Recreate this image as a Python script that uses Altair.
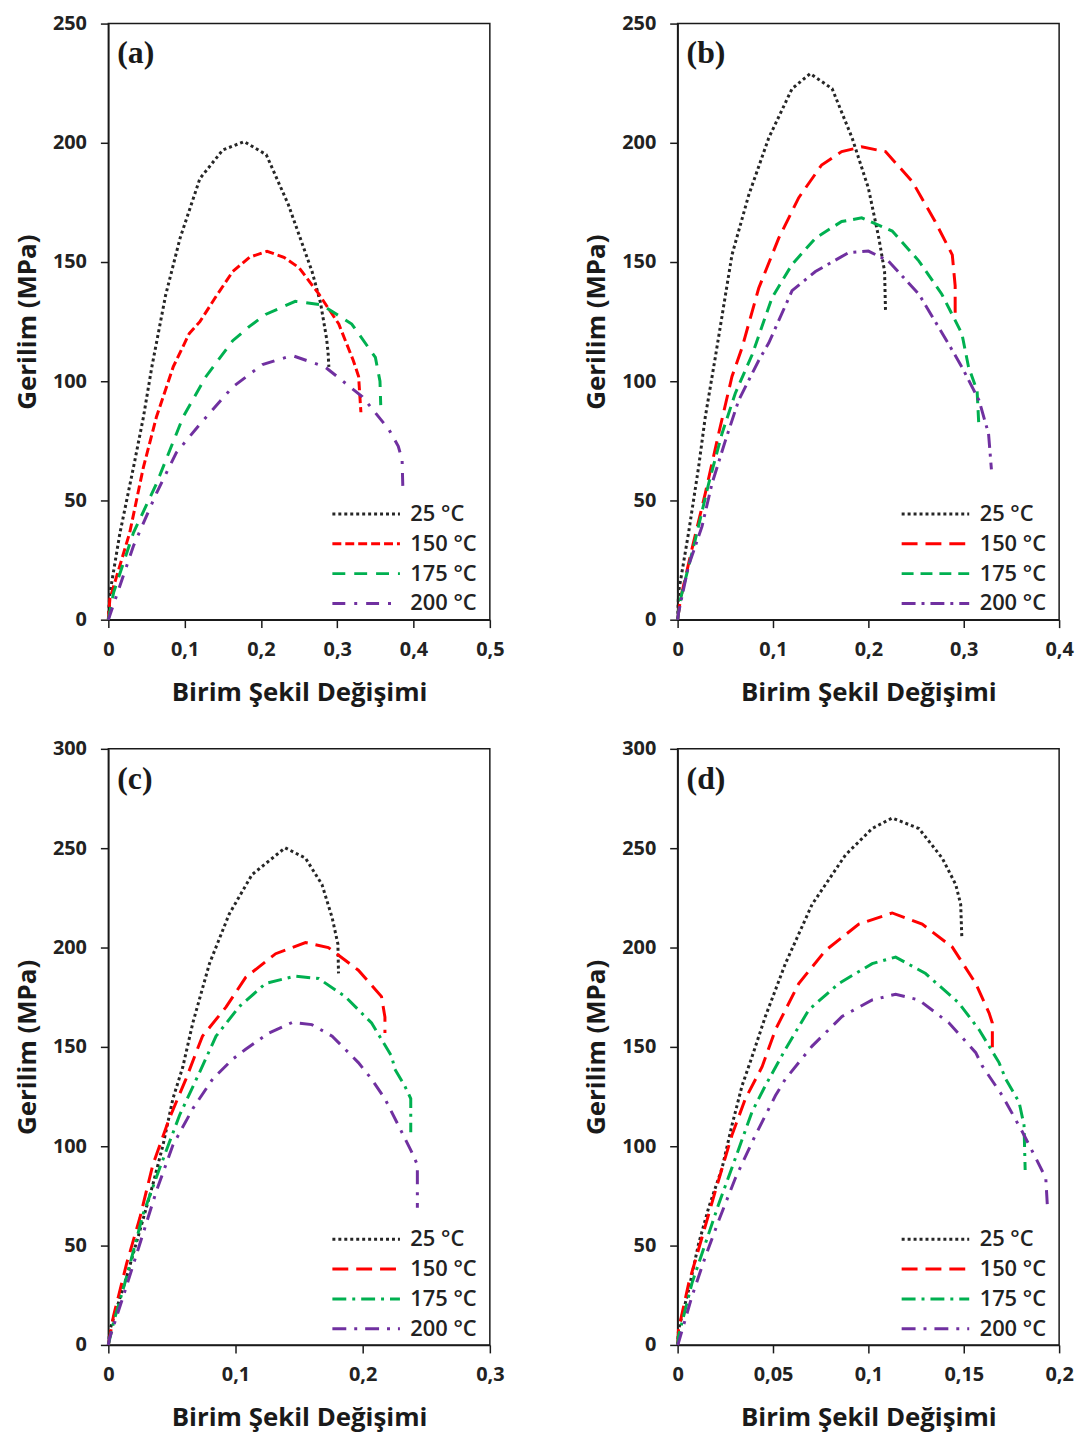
import altair as alt
import pandas as pd

LABELS = ["25 °C", "150 °C", "175 °C", "200 °C"]
COLORS = ["#262626", "#FF0000", "#00B050", "#7030A0"]
PANEL_LABELS = ["(a)", "(b)", "(c)", "(d)"]
X_TITLE = "Birim Şekil Değişimi"
Y_TITLE = "Gerilim (MPa)"

# ---- panel (a) ----
A25_x = [0, 0.002, 0.015, 0.033, 0.046, 0.057, 0.075, 0.094, 0.12, 0.15, 0.178, 0.207, 0.236, 0.267, 0.278, 0.286, 0.288, 0.289]
A25_y = [0, 11, 36, 64, 85, 106, 136, 160, 185, 197, 200.5, 195, 174, 146, 133, 118, 112, 106]
A150_x = [0, 0.002, 0.028, 0.046, 0.063, 0.085, 0.106, 0.12, 0.14, 0.163, 0.185, 0.208, 0.23, 0.25, 0.276, 0.302, 0.321, 0.328, 0.331]
A150_y = [0, 8.7, 36.5, 64, 85, 106, 120, 125, 135, 146, 152, 154.5, 152, 147.6, 136.5, 124, 108.7, 102, 87]
A175_x = [0, 0.007, 0.033, 0.063, 0.098, 0.128, 0.163, 0.185, 0.206, 0.245, 0.28, 0.319, 0.35, 0.356, 0.357]
A175_y = [0, 11.5, 36.5, 57, 85, 102, 117, 123, 128, 133.5, 132, 124, 110, 100, 90]
A200_x = [0, 0.033, 0.063, 0.089, 0.12, 0.163, 0.202, 0.241, 0.284, 0.333, 0.368, 0.38, 0.385, 0.386]
A200_y = [0, 31, 53, 70, 82, 97.6, 107, 110.8, 106, 93.5, 79.6, 72.7, 67, 55]

# ---- panel (b) ----
B25_x = [0, 0.001, 0.0115, 0.022, 0.029, 0.0395, 0.057, 0.0745, 0.0955, 0.12, 0.139, 0.162, 0.183, 0.2, 0.211, 0.217, 0.218]
B25_y = [0, 11.5, 36.5, 64, 85, 110, 153, 178, 202, 222.7, 229, 222.7, 202, 181, 160, 146, 129]
B150_x = [0, 0.003, 0.015, 0.029, 0.043, 0.057, 0.0675, 0.085, 0.106, 0.127, 0.151, 0.172, 0.193, 0.218, 0.246, 0.27, 0.288, 0.291, 0.291]
B150_y = [0, 8.7, 29.6, 53, 78, 102, 114, 139, 160, 177, 190.7, 196.3, 198.3, 196.3, 183.8, 167, 153, 140, 128]
B175_x = [0, 0.003, 0.0186, 0.0325, 0.0465, 0.0605, 0.078, 0.099, 0.12, 0.1445, 0.172, 0.193, 0.225, 0.253, 0.277, 0.298, 0.305, 0.314, 0.316]
B175_y = [0, 8.7, 33.7, 57, 78, 95, 111, 135, 149, 160, 167, 168.5, 163, 150.4, 136.5, 120, 106, 96, 80]
B200_x = [0, 0.001, 0.0115, 0.0255, 0.036, 0.05, 0.064, 0.085, 0.0955, 0.12, 0.1445, 0.179, 0.2, 0.221, 0.253, 0.284, 0.298, 0.316, 0.326, 0.329]
B200_y = [0, 3, 22.7, 39, 57, 75, 92, 108.7, 116, 138, 146, 153.9, 154.6, 150.4, 136.5, 115.7, 106, 92, 78, 63]

# ---- panel (c) ----
C25_x = [0, 0.0013, 0.0144, 0.0248, 0.035, 0.043, 0.0508, 0.0586, 0.0664, 0.0795, 0.095, 0.113, 0.139, 0.155, 0.168, 0.176, 0.1805, 0.181]
C25_y = [0, 7.8, 34.3, 57.6, 80.7, 100.6, 124, 140, 162, 191.9, 216.8, 236.7, 250.2, 245, 231.7, 215, 201.8, 187]
C150_x = [0, 0.004, 0.0144, 0.0248, 0.035, 0.048, 0.061, 0.074, 0.0925, 0.108, 0.1316, 0.155, 0.173, 0.1966, 0.2148, 0.2175, 0.2175]
C150_y = [0, 14.4, 41, 64, 90.7, 114, 133.8, 155.4, 170, 185, 196.9, 202.5, 200, 188.6, 175.3, 165, 157]
C175_x = [0, 0.004, 0.0144, 0.0273, 0.0404, 0.056, 0.0716, 0.0847, 0.103, 0.1238, 0.147, 0.1654, 0.1863, 0.207, 0.2227, 0.2253, 0.233, 0.2378, 0.2378]
C175_y = [0, 11.1, 34.3, 65.8, 89, 115.6, 137, 155.4, 170.3, 182, 185.6, 184.4, 175.3, 162, 145.4, 138.8, 130.5, 124, 107]
C200_x = [0, 0.001, 0.0117, 0.0248, 0.0378, 0.0508, 0.0664, 0.082, 0.0977, 0.108, 0.1263, 0.1445, 0.16, 0.176, 0.1966, 0.207, 0.2175, 0.228, 0.2383, 0.243, 0.243]
C200_y = [0, 3.5, 24.4, 50.9, 77.5, 100.6, 118.9, 133.8, 143.8, 148.8, 157, 162.3, 161.2, 155.4, 142.1, 133.8, 123.9, 110.6, 97.4, 90.7, 69]

# ---- panel (d) ----
D25_x = [0, 0.0005, 0.0058, 0.011, 0.0163, 0.0233, 0.0285, 0.0338, 0.039, 0.046, 0.0565, 0.0705, 0.088, 0.102, 0.1125, 0.1265, 0.1387, 0.1458, 0.1484, 0.149]
D25_y = [0, 7.8, 27.7, 50.9, 69.2, 89, 110.6, 130.5, 145, 165.3, 191.9, 221.7, 246.6, 259.9, 265.2, 259.9, 245, 231.7, 221.7, 205]
D150_x = [0, 0.0005, 0.0058, 0.0128, 0.0198, 0.0285, 0.0355, 0.0443, 0.0513, 0.0635, 0.0775, 0.095, 0.1125, 0.1282, 0.144, 0.1563, 0.1633, 0.165, 0.165]
D150_y = [0, 7.8, 31, 54.2, 77.5, 105.6, 123.9, 140, 158.7, 181.9, 198.5, 211.8, 217.4, 211.8, 200.2, 181.9, 167, 162, 148]
D175_x = [0, 0.0005, 0.0075, 0.0145, 0.0215, 0.0303, 0.039, 0.046, 0.0565, 0.0688, 0.0845, 0.102, 0.1143, 0.13, 0.1475, 0.158, 0.1685, 0.172, 0.179, 0.1816, 0.1822]
D175_y = [0, 4.5, 31, 50.9, 70.8, 94, 117.3, 130.5, 148.8, 168.7, 181.9, 191.9, 195.2, 186.9, 172, 158.7, 142.1, 133.8, 122.2, 110.6, 88]
D200_x = [0, 0.0005, 0.0075, 0.0145, 0.0215, 0.0303, 0.0408, 0.0513, 0.0565, 0.0705, 0.0862, 0.102, 0.1143, 0.1265, 0.1423, 0.1563, 0.1597, 0.1702, 0.1807, 0.1878, 0.193, 0.1939]
D200_y = [0, 1.2, 24.4, 44.3, 62.5, 84, 105.6, 125.5, 133.8, 150.4, 165.3, 173.6, 176.5, 173.6, 162, 147.1, 140.4, 125.5, 107.3, 94, 84, 69]

X_TICKS = {
    "a": [0, 0.1, 0.2, 0.3, 0.4, 0.5],
    "b": [0, 0.1, 0.2, 0.3, 0.4],
    "c": [0, 0.1, 0.2, 0.3],
    "d": [0, 0.05, 0.1, 0.15, 0.2],
}
Y_TICKS_AB = [0, 50, 100, 150, 200, 250]
Y_TICKS_CD = [0, 50, 100, 150, 200, 250, 300]

DOT = [3, 3]
DASHES = {
    "a": [DOT, [9, 4], [13, 9], [13, 9, 3, 9]],
    "b": [DOT, [16, 8], [12, 7], [14, 6, 3, 6]],
    "c": [DOT, [16, 8], [14, 6, 3, 6], [14, 8, 3, 8]],
    "d": [DOT, [16, 8], [14, 6, 3, 6], [14, 8, 3, 8]],
}

SERIES = {
    "a": [(A25_x, A25_y), (A150_x, A150_y), (A175_x, A175_y), (A200_x, A200_y)],
    "b": [(B25_x, B25_y), (B150_x, B150_y), (B175_x, B175_y), (B200_x, B200_y)],
    "c": [(C25_x, C25_y), (C150_x, C150_y), (C175_x, C175_y), (C200_x, C200_y)],
    "d": [(D25_x, D25_y), (D150_x, D150_y), (D175_x, D175_y), (D200_x, D200_y)],
}

W, H = 384, 600
LABEL_EXPR = "replace(toString(datum.value), '.', ',')"


def panel(key, label, yticks):
    rows = []
    for lab, (xs, ys) in zip(LABELS, SERIES[key]):
        for i, (xv, yv) in enumerate(zip(xs, ys)):
            rows.append({"x": xv, "y": yv, "T": lab, "i": i})
    df = pd.DataFrame(rows)
    xt = X_TICKS[key]
    legend = alt.Legend(
        title=None, orient="none", legendX=224, legendY=479, padding=0,
        symbolType="stroke", symbolSize=4624, symbolStrokeWidth=3,
        clipHeight=29.3, rowPadding=0, labelFont="Open Sans", labelFontSize=22,
        labelFontWeight=600, labelColor="#222222", labelOffset=9, symbolOffset=0,
    )
    lines = alt.Chart(df).mark_line(strokeWidth=3).encode(
        x=alt.X("x:Q", title=X_TITLE,
                scale=alt.Scale(domain=[xt[0], xt[-1]], nice=False, zero=False),
                axis=alt.Axis(values=xt, labelExpr=LABEL_EXPR)),
        y=alt.Y("y:Q", title=Y_TITLE,
                scale=alt.Scale(domain=[yticks[0], yticks[-1]], nice=False),
                axis=alt.Axis(values=yticks)),
        color=alt.Color("T:N", sort=LABELS,
                        scale=alt.Scale(domain=LABELS, range=COLORS), legend=legend),
        strokeDash=alt.StrokeDash("T:N", sort=LABELS,
                                  scale=alt.Scale(domain=LABELS, range=DASHES[key]),
                                  legend=legend),
        order="i:Q",
        detail="T:N",
    )
    tdf = pd.DataFrame({"lab": [label]})
    txt = alt.Chart(tdf).mark_text(
        font="Liberation Serif", fontWeight="bold", fontSize=32,
        align="left", baseline="alphabetic", color="#1a1a1a",
    ).encode(x=alt.value(9), y=alt.value(40), text="lab:N")
    return alt.layer(lines, txt).properties(width=W, height=H).resolve_scale(
        color="independent", strokeDash="independent")


pa = panel("a", PANEL_LABELS[0], Y_TICKS_AB)
pb = panel("b", PANEL_LABELS[1], Y_TICKS_AB)
pc = panel("c", PANEL_LABELS[2], Y_TICKS_CD)
pd_ = panel("d", PANEL_LABELS[3], Y_TICKS_CD)

row1 = alt.hconcat(pa, pb, spacing=77).resolve_scale(
    color="independent", strokeDash="independent").resolve_legend(
    color="independent", strokeDash="independent")
row2 = alt.hconcat(pc, pd_, spacing=77).resolve_scale(
    color="independent", strokeDash="independent").resolve_legend(
    color="independent", strokeDash="independent")

chart = alt.vconcat(row1, row2, spacing=32).resolve_scale(
    color="independent", strokeDash="independent").resolve_legend(
    color="independent", strokeDash="independent").properties(
    padding={"left": 5, "top": 0, "right": 3, "bottom": 3}, background="white"
).configure_view(
    stroke="#1a1a1a", strokeWidth=1.5
).configure_axis(
    grid=False, domainColor="#1a1a1a", domainWidth=1.5,
    tickColor="#1a1a1a", tickWidth=1.5, tickSize=8, labelFlush=False,
    labelFont="Open Sans", labelFontSize=20, labelFontWeight="bold",
    labelColor="#222222",
    titleFont="Open Sans", titleFontSize=26, titleFontWeight="bold",
    titleColor="#1a1a1a",
).configure_axisX(
    labelPadding=12, titlePadding=20,
).configure_axisY(
    labelPadding=14, titlePadding=12,
)

chart.save("out.html", embed_options={"renderer": "svg", "actions": False})
